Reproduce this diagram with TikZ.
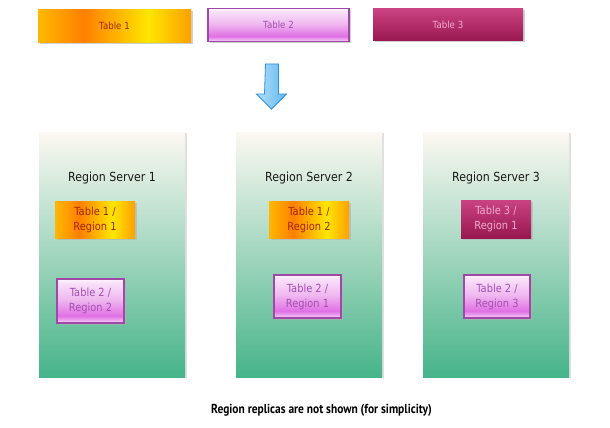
\documentclass[tikz,border=0pt]{standalone}
\usepackage{fontspec}
\usetikzlibrary{shadows}
\newfontfamily\boxfont[FakeStretch=0.88]{DejaVu Sans}
\newfontfamily\capfont[FakeStretch=0.88]{PT Sans}
\definecolor{toA}{HTML}{FFB800}
\definecolor{toB}{HTML}{FF8000}
\definecolor{toC}{HTML}{FFE600}
\definecolor{toD}{HTML}{FFA000}
\definecolor{ttA}{HTML}{F6D4F6}
\definecolor{ttB}{HTML}{E070E4}
\definecolor{ttC}{HTML}{F0B8F0}
\definecolor{ttD}{HTML}{F8E0F8}
\definecolor{ttE}{HTML}{FFF4FF}
\definecolor{t3A}{HTML}{981850}
\definecolor{t3B}{HTML}{CA4282}
\definecolor{svA}{HTML}{46B48A}
\definecolor{svB}{HTML}{FCF8F2}
\definecolor{arA}{HTML}{B2E0FA}
\definecolor{arB}{HTML}{62B6F0}
\definecolor{arE}{HTML}{2A90E0}
\definecolor{oneText}{HTML}{A02800}
\definecolor{twoText}{HTML}{A050B0}
\definecolor{threeText}{HTML}{F2AACE}
\definecolor{twoEdge}{HTML}{A048A8}
\pgfdeclarehorizontalshading{tabone}{100bp}{color(0bp)=(toA); color(25bp)=(toA); color(40bp)=(toB); color(61bp)=(toC); color(75bp)=(toD); color(100bp)=(toD)}
\pgfdeclareverticalshading{tabtwo}{100bp}{color(0bp)=(ttA); color(25bp)=(ttA); color(33bp)=(ttB); color(52bp)=(ttC); color(70bp)=(ttD); color(75bp)=(ttE); color(100bp)=(ttE)}
\pgfdeclareverticalshading{tabthree}{100bp}{color(0bp)=(t3A); color(25bp)=(t3A); color(75bp)=(t3B); color(100bp)=(t3B)}
\pgfdeclareverticalshading{serversh}{100bp}{color(0bp)=(svA); color(25bp)=(svA); color(75bp)=(svB); color(100bp)=(svB)}
\pgfdeclarehorizontalshading{arrowsh}{100bp}{color(0bp)=(arA); color(25bp)=(arA); color(75bp)=(arB); color(100bp)=(arB)}
\tikzset{
  shad/.style={drop shadow={shadow xshift=1.5pt, shadow yshift=-1.5pt, fill=black!30, opacity=0.6}},
  tone/.style={shad, shading=tabone, text=oneText, inner sep=0pt, align=center},
  ttwo/.style={shad, shading=tabtwo, draw=twoEdge, line width=1.2pt, text=twoText, inner sep=0pt, align=center},
  tthree/.style={shad, shading=tabthree, text=threeText, inner sep=0pt, align=center},
  topfont/.style={font={\boxfont\fontsize{9.8}{12}\selectfont}},
  innerfont/.style={font={\boxfont\fontsize{11.2}{15}\selectfont}},
  serverbox/.style={drop shadow={shadow xshift=2pt, shadow yshift=-1pt, fill=black!25, opacity=0.5}, shading=serversh, minimum width=146pt, minimum height=245pt, inner sep=0pt},
  servertitle/.style={font={\boxfont\fontsize{12.5}{15}\selectfont}, text=black!90},
}
\begin{document}
\begin{tikzpicture}[x=1pt,y=-1pt]
\useasboundingbox (0,0) rectangle (610,428);
% top tables
\node[tone, topfont, minimum width=153pt, minimum height=33pt] (t1) at (114.5,26) {Table 1};
\node[ttwo, topfont, minimum width=141pt, minimum height=33pt] (t2) at (278.5,25) {Table 2};
\node[tthree, topfont, minimum width=150pt, minimum height=32pt] (t3) at (448,25) {Table 3};
% arrow
\coordinate (arr) at (272,64);
\shade[shading=arrowsh, draw=arE, line width=0.8pt]
  (arr) ++(-6.5,0) -- ++(13,0) -- ++(0,30) -- ++(8,0) -- ++(-15,15) -- ++(-15,-15) -- ++(8,0) -- cycle;
% servers
\node[serverbox] (s1) at (112,254.5) {};
\node[serverbox] (s2) at (309,254.5) {};
\node[serverbox] (s3) at (496,254.5) {};
\node[servertitle] (h1) at (112,178) {Region Server 1};
\node[servertitle] (h2) at (309,178) {Region Server 2};
\node[servertitle] (h3) at (496,178) {Region Server 3};
% regions
\node[tone, innerfont, minimum width=80pt, minimum height=37pt] (r11) at (95,219.5) {Table 1 /\\Region 1};
\node[ttwo, innerfont, minimum width=67pt, minimum height=44pt] (r12) at (90.5,301) {Table 2 /\\Region 2};
\node[tone, innerfont, minimum width=80pt, minimum height=37pt] (r21) at (309,219.5) {Table 1 /\\Region 2};
\node[ttwo, innerfont, minimum width=67pt, minimum height=43pt] (r22) at (307.5,296.5) {Table 2 /\\Region 1};
\node[tthree, innerfont, minimum width=70pt, minimum height=38pt] (r31) at (496,219) {Table 3 /\\Region 1};
\node[ttwo, innerfont, minimum width=66pt, minimum height=43pt] (r32) at (497,296.5) {Table 2 /\\Region 3};
% caption
\node[font={\capfont\bfseries\fontsize{13}{15}\selectfont}] (cap) at (321.5,410) {Region replicas are not shown (for simplicity)};
\end{tikzpicture}
\end{document}
